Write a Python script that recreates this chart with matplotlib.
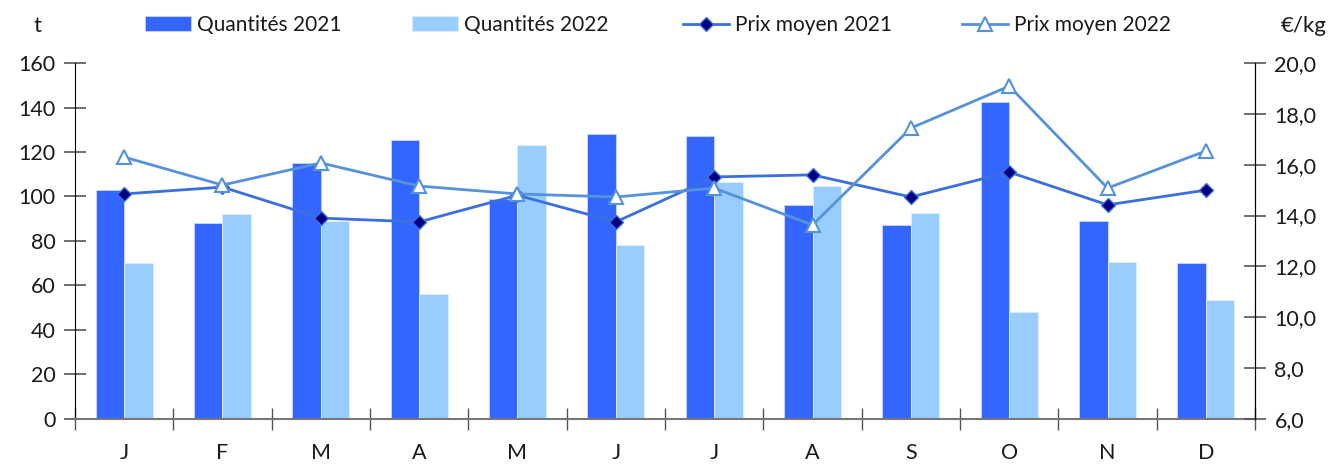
import matplotlib
matplotlib.use("Agg")
import matplotlib.pyplot as plt
import numpy as np
from matplotlib.ticker import FixedLocator, NullFormatter

plt.rcParams['font.family'] = ['Lato', 'DejaVu Sans']

months = ["J", "F", "M", "A", "M", "J", "J", "A", "S", "O", "N", "D"]
qty_2021 = [103, 88, 115, 125.5, 99, 128, 127, 96, 87, 142.5, 89, 70]
qty_2022 = [70, 92, 89, 56, 123, 78, 106.5, 104.5, 92.5, 48, 70.5, 53.5]
price_2021 = [14.85, 15.12, 13.9, 13.75, 14.8, 13.75, 15.52, 15.6, 14.73, 15.71, 14.42, 15.0]
price_2022 = [16.3, 15.2, 16.07, 15.16, 14.85, 14.73, 15.08, 13.63, 17.44, 19.09, 15.08, 16.54]

c_q21 = "#3366FF"
c_q22 = "#99CCFF"
c_p21 = "#3A6FE0"
c_p22 = "#5592DC"
txt = "#1a1a1a"

fig = plt.figure(figsize=(13.34, 4.66), dpi=100)
ax = fig.add_axes([0.0562, 0.1009, 0.8846, 0.7639])
ax2 = ax.twinx()

x = np.arange(len(months))
w = 0.29
b1 = ax.bar(x - w/2, qty_2021, width=w, color=c_q21, edgecolor="#C8D8FF", linewidth=0.6, label="Quantités 2021", zorder=2)
b2 = ax.bar(x + w/2, qty_2022, width=w, color=c_q22, edgecolor="#E0EEFF", linewidth=0.6, label="Quantités 2022", zorder=2)

l1, = ax2.plot(x, price_2021, color=c_p21, lw=2, marker="D", markersize=7,
               markerfacecolor="#000080", markeredgecolor=c_p21, markeredgewidth=1, label="Prix moyen 2021")
l2, = ax2.plot(x, price_2022, color=c_p22, lw=2, marker="^", markersize=10,
               markerfacecolor="white", markeredgecolor=c_p22, markeredgewidth=1.5, label="Prix moyen 2022")

ax.set_xlim(-0.5, 11.5)
ax.set_ylim(0, 160)
ax.set_yticks(np.arange(0, 161, 20))
ax2.set_ylim(6, 20)
ax2.set_yticks(np.arange(6, 20.1, 2))
ax2.set_yticklabels([f"{v:.1f}".replace(".", ",") for v in np.arange(6, 20.1, 2)])

ax.set_xticks(x)
ax.set_xticklabels(months)
ax.xaxis.set_minor_locator(FixedLocator(np.arange(-0.5, 12, 1)))
ax.xaxis.set_minor_formatter(NullFormatter())
ax.tick_params(axis="x", which="major", length=0, pad=17, labelsize=15.5, labelcolor=txt)
ax.tick_params(axis="x", which="minor", length=16, direction="inout", color="#555555", width=1)
ax.tick_params(axis="y", length=16, direction="inout", color="#555555", width=1.2, labelsize=15.5, labelcolor=txt, pad=6)
ax2.tick_params(axis="y", length=16, direction="inout", color="#555555", width=1.2, labelsize=15.5, labelcolor=txt, pad=6)

for a in (ax, ax2):
    a.spines["top"].set_visible(False)
ax.spines["left"].set_color("black")
ax.spines["bottom"].set_color("#777777")
ax.spines["bottom"].set_linewidth(1.5)
ax2.spines["right"].set_color("black")
ax2.spines["left"].set_visible(False)
ax2.spines["bottom"].set_visible(False)

fig.text(37/1334, 1 - 26/466, "t", ha="center", va="center", fontsize=16, color=txt)
fig.text(1304/1334, 1 - 26/466, "€/kg", ha="center", va="center", fontsize=16, color=txt)

legend_x = [145, 412, 683, 962]
for h, lx in zip([b1, b2, l1, l2], legend_x):
    leg = fig.legend(handles=[h], loc="center left", bbox_to_anchor=(lx/1334, 1 - 25/466),
                     frameon=False, fontsize=15, handlelength=2.2, handletextpad=0.3,
                     borderpad=0, borderaxespad=0, labelcolor=txt)

fig.savefig("out.png", dpi=100)
